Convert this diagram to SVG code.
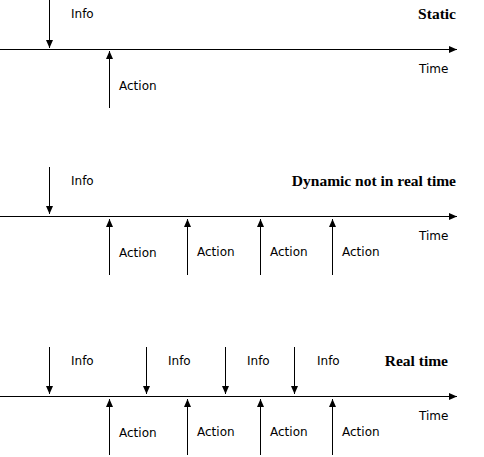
<svg xmlns="http://www.w3.org/2000/svg" width="484" height="457" viewBox="0 0 484 457">
<style>
.ln{stroke:#000;stroke-width:1;fill:none}
.t{font-family:"DejaVu Sans",Verdana,sans-serif;font-size:12px;fill:#000}
.h{font-family:"Liberation Serif","Times New Roman",serif;font-size:15.5px;font-weight:bold;fill:#000;text-anchor:end}
</style>
<defs>
<marker id="a" viewBox="0 0 8 8" refX="8" refY="4" markerWidth="8" markerHeight="8" markerUnits="userSpaceOnUse" orient="auto"><path d="M0,0.5 L8,4 L0,7.5 Z" fill="#000"/></marker>
</defs>
<rect width="484" height="457" fill="#fff"/>
<g id="connectors">
<line class="ln" x1="0" y1="49.5" x2="457" y2="49.5" marker-end="url(#a)"/>
<line class="ln" x1="49.5" y1="0" x2="49.5" y2="48" marker-end="url(#a)"/>
<line class="ln" x1="109.5" y1="108" x2="109.5" y2="51" marker-end="url(#a)"/>

<line class="ln" x1="0" y1="216.5" x2="457" y2="216.5" marker-end="url(#a)"/>
<line class="ln" x1="49.5" y1="167" x2="49.5" y2="214" marker-end="url(#a)"/>
<line class="ln" x1="109.5" y1="275" x2="109.5" y2="219" marker-end="url(#a)"/>
<line class="ln" x1="187.5" y1="275" x2="187.5" y2="219" marker-end="url(#a)"/>
<line class="ln" x1="260.5" y1="275" x2="260.5" y2="219" marker-end="url(#a)"/>
<line class="ln" x1="332.5" y1="275" x2="332.5" y2="219" marker-end="url(#a)"/>

<line class="ln" x1="0" y1="396.5" x2="457" y2="396.5" marker-end="url(#a)"/>
<line class="ln" x1="49.5" y1="347" x2="49.5" y2="394" marker-end="url(#a)"/>
<line class="ln" x1="146.5" y1="347" x2="146.5" y2="394" marker-end="url(#a)"/>
<line class="ln" x1="225.5" y1="347" x2="225.5" y2="394" marker-end="url(#a)"/>
<line class="ln" x1="294.5" y1="347" x2="294.5" y2="394" marker-end="url(#a)"/>
<line class="ln" x1="109.5" y1="455" x2="109.5" y2="399" marker-end="url(#a)"/>
<line class="ln" x1="187.5" y1="455" x2="187.5" y2="399" marker-end="url(#a)"/>
<line class="ln" x1="260.5" y1="455" x2="260.5" y2="399" marker-end="url(#a)"/>
<line class="ln" x1="332.5" y1="455" x2="332.5" y2="399" marker-end="url(#a)"/>
</g>
<g id="static">
<text class="t" x="71" y="18">Info</text>
<text class="h" x="456" y="19">Static</text>
<text class="t" x="419" y="73">Time</text>
<text class="t" x="119" y="90">Action</text>
</g>
<g id="dynamic">
<text class="t" x="71" y="185">Info</text>
<text class="h" x="456" y="186">Dynamic not in real time</text>
<text class="t" x="419" y="240">Time</text>
<text class="t" x="119" y="257">Action</text>
<text class="t" x="197" y="256">Action</text>
<text class="t" x="270" y="256">Action</text>
<text class="t" x="342" y="256">Action</text>
</g>
<g id="realtime">
<text class="t" x="71" y="365">Info</text>
<text class="t" x="168" y="365">Info</text>
<text class="t" x="247" y="365">Info</text>
<text class="t" x="317" y="365">Info</text>
<text class="h" x="448" y="366">Real time</text>
<text class="t" x="419" y="420">Time</text>
<text class="t" x="119" y="437">Action</text>
<text class="t" x="197" y="436">Action</text>
<text class="t" x="270" y="436">Action</text>
<text class="t" x="342" y="436">Action</text>
</g>
</svg>
